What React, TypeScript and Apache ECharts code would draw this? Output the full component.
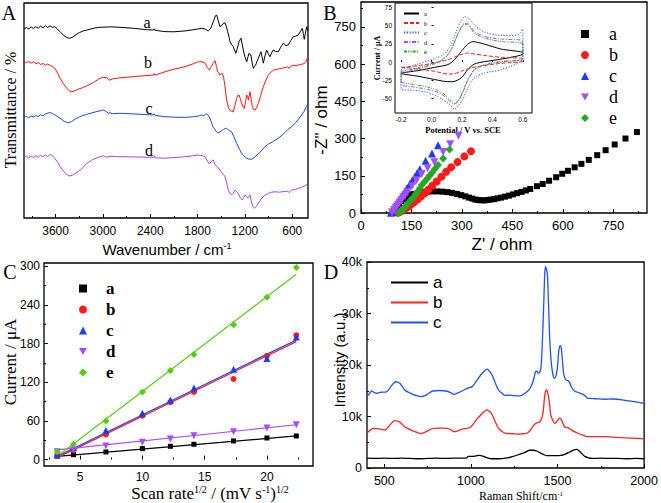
import React, { useEffect, useRef } from 'react';
import * as echarts from 'echarts';

const SERIF = '"Liberation Serif", "Times New Roman", serif';
const SANS = '"Liberation Sans", Arial, sans-serif';

// ---------- Panel A: FTIR (wavenumber, transmittance a.u.) ----------
const ftirNames = ['a', 'b', 'c', 'd'];
const ftirColors = ['#000000', '#ff1010', '#1f45e6', '#a349e8'];
const ftirTicks = [3600, 3000, 2400, 1800, 1200, 600];
const ftirMinorTicks = [3900, 3300, 2700, 2100, 1500, 900];
const ftirA = [[4000,88.0],[3970,88.6],[3940,87.9],[3910,88.9],[3880,88.1],[3850,89.0],[3820,88.2],[3790,89.3],[3760,88.4],[3730,89.5],[3700,88.6],[3670,89.4],[3640,88.7],[3610,89.0],[3580,88.0],[3544,86.7],[3500,85.0],[3450,83.8],[3417,83.6],[3380,84.2],[3340,85.3],[3300,86.2],[3250,87.0],[3205,87.4],[3100,88.4],[3037,88.7],[2900,88.9],[2783,88.7],[2600,88.2],[2450,87.6],[2361,87.4],[2350,88.0],[2340,87.3],[2213,86.7],[2100,86.6],[1959,87.0],[1850,87.6],[1747,88.2],[1700,87.8],[1664,87.0],[1630,88.5],[1600,91.3],[1575,94.0],[1557,94.4],[1540,92.0],[1516,89.0],[1500,89.5],[1486,89.8],[1470,90.6],[1452,90.8],[1435,89.0],[1418,86.7],[1400,84.0],[1389,82.0],[1365,80.5],[1347,79.7],[1330,78.0],[1316,76.6],[1295,79.0],[1275,82.0],[1250,83.6],[1235,81.0],[1220,78.1],[1200,75.0],[1177,72.7],[1160,75.0],[1148,76.6],[1135,76.0],[1123,75.8],[1110,72.5],[1093,69.6],[1078,70.5],[1063,71.2],[1045,73.0],[1030,74.3],[1012,76.0],[996,77.3],[980,74.5],[966,72.0],[945,75.5],[924,78.1],[905,76.5],[882,75.0],[860,77.0],[840,78.1],[810,77.5],[777,77.3],[745,79.5],[713,81.3],[680,80.2],[650,80.5],[620,82.5],[586,84.3],[555,84.6],[523,85.1],[500,86.5],[472,88.2],[460,86.0],[447,83.1],[430,86.5],[417,89.0],[405,87.0]];
const ftirB = [[4000,72.8],[3970,72.2],[3940,72.9],[3910,72.0],[3880,72.6],[3850,71.7],[3820,72.3],[3790,71.4],[3760,71.9],[3730,71.0],[3700,71.6],[3670,71.0],[3640,70.5],[3607,69.6],[3575,67.5],[3544,65.0],[3500,62.5],[3459,60.3],[3420,59.0],[3395,58.7],[3350,59.2],[3312,59.9],[3260,60.6],[3205,61.4],[3120,63.0],[3037,65.0],[2990,65.4],[2952,65.3],[2930,64.3],[2910,64.2],[2870,64.8],[2783,65.2],[2600,65.8],[2361,66.5],[2350,67.2],[2340,66.4],[2213,68.0],[2100,69.2],[1959,70.4],[1850,71.8],[1790,72.7],[1740,72.6],[1705,72.0],[1675,70.0],[1650,68.8],[1625,70.5],[1600,72.0],[1579,73.2],[1560,70.5],[1545,68.0],[1530,67.5],[1516,66.5],[1500,67.0],[1486,67.3],[1470,65.5],[1461,63.4],[1445,59.0],[1431,54.9],[1410,51.5],[1389,50.2],[1368,49.6],[1347,49.4],[1325,52.5],[1304,55.7],[1290,57.0],[1275,57.2],[1258,55.5],[1241,53.3],[1225,51.8],[1207,51.0],[1192,54.0],[1177,57.2],[1165,56.5],[1156,54.9],[1145,57.0],[1135,58.7],[1120,55.0],[1106,51.8],[1090,50.5],[1071,50.2],[1050,51.5],[1030,53.3],[1000,57.0],[966,61.1],[935,64.0],[903,66.5],[870,67.8],[840,68.8],[790,69.2],[734,69.6],[700,69.9],[660,70.3],[640,69.6],[620,70.6],[607,70.7],[580,71.0],[540,70.8],[510,71.4],[480,71.5],[450,71.8],[430,72.4],[417,73.8],[405,74.5]];
const ftirC = [[4000,46.8],[3970,47.3],[3940,46.6],[3910,47.5],[3880,46.9],[3850,47.7],[3820,47.1],[3790,48.0],[3760,47.5],[3730,48.4],[3700,48.8],[3670,49.0],[3640,48.6],[3600,47.8],[3544,46.4],[3490,45.0],[3440,44.3],[3400,44.8],[3350,46.0],[3312,46.8],[3260,47.6],[3205,48.2],[3100,49.3],[3020,50.0],[2990,50.2],[2960,49.5],[2930,48.7],[2910,49.0],[2880,48.5],[2783,48.7],[2600,48.4],[2361,47.9],[2350,48.5],[2340,47.7],[2213,47.1],[2100,46.9],[1959,46.8],[1850,47.1],[1790,47.4],[1750,47.9],[1720,47.6],[1700,48.2],[1684,48.4],[1665,47.8],[1643,46.4],[1620,44.0],[1605,42.5],[1588,41.7],[1570,40.5],[1545,39.7],[1520,40.0],[1494,40.6],[1470,41.2],[1450,41.6],[1431,41.7],[1410,41.0],[1390,40.5],[1368,40.1],[1340,37.8],[1304,34.7],[1270,32.2],[1241,30.1],[1210,28.8],[1177,27.8],[1150,27.4],[1114,27.3],[1080,28.2],[1030,29.8],[990,31.3],[945,33.2],[900,34.5],[850,35.4],[777,37.1],[720,38.8],[660,41.0],[607,42.5],[560,44.2],[520,46.0],[480,47.9],[450,49.6],[420,51.8],[404,52.6]];
const ftirD = [[4000,28.0],[3970,28.8],[3940,27.9],[3910,28.9],[3880,28.1],[3850,29.0],[3820,28.2],[3790,29.2],[3760,28.4],[3730,29.4],[3700,28.6],[3670,29.5],[3640,29.0],[3607,27.6],[3575,26.0],[3544,24.0],[3500,21.8],[3459,20.2],[3417,19.5],[3380,20.0],[3340,21.0],[3312,21.5],[3260,23.2],[3205,25.4],[3130,27.2],[3037,28.5],[2990,28.9],[2960,28.3],[2900,28.7],[2783,28.5],[2600,28.4],[2361,28.2],[2350,28.9],[2340,28.0],[2213,27.8],[2100,28.1],[1959,28.5],[1850,29.0],[1790,29.3],[1740,29.0],[1705,28.4],[1675,26.5],[1650,25.1],[1625,26.2],[1600,27.0],[1580,25.0],[1557,23.9],[1540,23.5],[1516,22.3],[1500,21.5],[1486,20.8],[1470,20.2],[1452,19.2],[1430,16.0],[1410,13.0],[1390,11.5],[1368,10.7],[1348,11.5],[1326,13.0],[1305,12.3],[1283,11.5],[1260,9.5],[1233,8.4],[1215,9.5],[1198,10.7],[1180,10.0],[1165,9.2],[1150,10.0],[1135,10.7],[1120,8.0],[1106,6.0],[1093,5.0],[1080,4.5],[1055,5.5],[1030,6.8],[990,9.0],[945,10.7],[900,11.5],[860,12.0],[819,12.2],[760,12.0],[720,12.3],[692,12.2],[660,12.6],[640,11.8],[607,13.0],[560,13.3],[523,13.8],[480,14.3],[440,15.0],[404,15.8]];
const ftirData = [ftirA, ftirB, ftirC, ftirD];

// ---------- Panel B: Nyquist (Z', -Z'') ----------
const nyqNames = ['a', 'b', 'c', 'd', 'e'];
const nyqColors = ['#000000', '#ff1a1a', '#1a3cff', '#a64dff', '#22aa22'];
const nyqA = [[95,0],[98,8],[102,18],[107,28],[113,38],[120,48],[128,57],[137,65],[147,72],[158,77],[170,81],[183,84],[197,86],[212,87],[227,87],[242,86],[257,84],[271,81],[285,77],[298,72],[310,67],[321,62],[331,58],[340,54],[349,52],[358,51],[367,51],[376,52],[385,54],[395,56],[405,59],[416,62],[428,66],[440,70],[452,75],[464,80],[477,85],[490,91],[503,97],[523,108],[540,117],[559,130],[580,144],[598,158],[615,170],[635,184],[655,198],[677,214],[702,233],[727,253],[754,276],[786,300],[820,326]];
const nyqB = [[109,1],[115,4],[122,9],[130,16],[139,24],[148,33],[158,43],[168,54],[178,66],[189,79],[200,94],[212,110],[225,127],[239,146],[253,166],[268,184],[287,205],[307,228],[327,249]];
const nyqC = [[89,1],[95,12],[101,25],[108,40],[115,55],[122,70],[130,86],[137,101],[145,117],[152,131],[160,146],[167,161],[175,176],[192,210],[211,240],[229,273]];
const nyqD = [[92,2],[98,12],[104,22],[110,32],[115,42],[121,52],[126,62],[132,73],[138,84],[151,108],[165,132],[181,157],[198,180],[218,204],[244,246],[265,277],[290,311]];
const nyqE = [[112,0],[117,5],[121,10],[126,17],[130,24],[136,33],[142,42],[148,52],[155,62],[161,74],[168,86],[175,99],[181,113],[189,126],[197,139],[204,151],[211,162],[220,178],[229,193],[244,220],[263,256]];
const nyqData = [nyqA, nyqB, nyqC, nyqD, nyqE];
const nyqTicks = [0, 150, 300, 450, 600, 750];

// ---------- Inset: cyclic voltammograms (V, µA) ----------
const cvColors = ['#000000', '#ff1a1a', '#3355ff', '#b04cf0', '#22b022'];
const cvDash: any[] = ['solid', [4, 2], [1.2, 1.6], [4, 1.5, 1, 1.5], [3, 1.2, 1, 1.2, 1, 1.2]];
const cvA = [[-0.2,-15],[-0.09,-11.8],[0.02,-7.3],[0.107,-3.6],[0.151,3.2],[0.195,14.5],[0.238,24.5],[0.271,28],[0.348,24.5],[0.458,17.7],[0.6,13],[0.6,11],[0.458,4],[0.348,0.5],[0.282,-2.7],[0.238,-10.5],[0.195,-21.8],[0.14,-27],[0.107,-27],[0.02,-24],[-0.09,-19.5],[-0.2,-15.5],[-0.2,-15]];
const cvB = [[-0.2,-8],[-0.09,-5],[0.019,-1.4],[0.107,3.2],[0.162,7.7],[0.205,10.9],[0.238,12.3],[0.282,10.9],[0.348,9],[0.458,6.4],[0.6,4.5],[0.6,1],[0.458,-1.8],[0.348,-5],[0.26,-8],[0.195,-12.7],[0.14,-16.4],[0.107,-16.4],[0.019,-12.7],[-0.09,-9.5],[-0.2,-6.8],[-0.2,-8]];
const cvC = [[-0.2,-10.5],[-0.09,-2.7],[0.019,4.5],[0.085,10.9],[0.129,23.6],[0.162,41.8],[0.19,55.5],[0.216,62.3],[0.249,59],[0.293,48.6],[0.348,41],[0.458,36.4],[0.567,37.3],[0.6,45],[0.6,5],[0.458,-10.5],[0.348,-15],[0.282,-21.8],[0.238,-35.5],[0.205,-51.4],[0.173,-60.5],[0.151,-65],[0.118,-58],[0.063,-50],[-0.025,-42],[-0.112,-39],[-0.2,-37],[-0.2,-10.5]];
const cvD = [[-0.2,-15],[-0.09,-9.5],[0.019,-2.7],[0.085,4.5],[0.129,16.8],[0.162,33.6],[0.19,46.4],[0.216,53],[0.243,52],[0.282,41.8],[0.348,35],[0.458,31.4],[0.6,29],[0.6,4],[0.458,0.9],[0.348,-3.6],[0.282,-10.5],[0.238,-25.5],[0.205,-42],[0.173,-54.5],[0.146,-58],[0.118,-53.6],[0.063,-43.6],[-0.025,-37.7],[-0.112,-34.5],[-0.2,-31],[-0.2,-15]];
const cvE = [[-0.2,-12.7],[-0.09,-8],[0.019,-1.4],[0.085,5.5],[0.129,16.8],[0.162,32.7],[0.19,45.5],[0.216,51.8],[0.238,51],[0.282,39.5],[0.348,32.7],[0.458,28],[0.6,24.5],[0.6,5],[0.458,0],[0.348,-4.5],[0.282,-10.5],[0.238,-24],[0.205,-41],[0.173,-53.6],[0.151,-56.8],[0.118,-51],[0.063,-41],[-0.025,-34.5],[-0.112,-31],[-0.2,-27],[-0.2,-12.7]];
const cvData = [cvA, cvB, cvC, cvD, cvE];
const cvXTicks = [-0.2, 0, 0.2, 0.4, 0.6];
const cvYTicks = [-50, -25, 0, 25, 50, 75];

// ---------- Panel C: peak current vs sqrt(scan rate) ----------
const scanSqrt = [3.16, 4.47, 7.07, 10, 12.25, 14.14, 17.32, 20, 22.36];
const ipA = [5.6, 7.6, 11.8, 17, 20.6, 23.7, 28.9, 33.5, 36.6];
const ipB = [5.6, 15, 39, 68, 89, 105, 125, 161, 193];
const ipC = [7, 18.6, 45, 72, 92.5, 111, 140, 157, 190];
const ipD = [12, 15, 21, 27, 32, 37, 43, 49, 54];
const ipE = [12.3, 23.7, 60, 105, 138, 163, 209, 252, 298];
const ipData = [ipA, ipB, ipC, ipD, ipE];
const fitEnds = [[5, 36.6], [3, 183], [5, 185.6], [15, 54], [5, 287.5]];
const ipColors = ['#000000', '#ff1a1a', '#1a3cff', '#a64dff', '#55cc11'];
const cXTicks = [5, 10, 15, 20];
const cXMinor = [2.5, 7.5, 12.5, 17.5, 22.5];
const cYTicks = [0, 60, 120, 180, 240, 300];
const cYMinor = [30, 90, 150, 210, 270];

// ---------- Panel D: Raman ----------
const ramanNames = ['a', 'b', 'c'];
const ramanColors = ['#000000', '#ff2020', '#2050ff'];
const ramanA = [[400,1900],[450,1850],[500,1900],[550,1850],[600,1900],[650,1850],[700,1800],[750,1850],[800,1900],[850,1850],[900,1900],[950,1900],[975,1950],[985,2250],[1010,2250],[1030,2350],[1050,2450],[1070,2300],[1090,2050],[1120,1800],[1160,1800],[1200,1900],[1240,2200],[1280,2650],[1310,3000],[1340,3450],[1360,3450],[1380,3300],[1400,2950],[1420,2600],[1440,2400],[1480,2400],[1520,2450],[1545,2700],[1570,3100],[1595,3500],[1610,3600],[1625,3300],[1640,2800],[1660,2200],[1680,1950],[1700,1850],[1750,1900],[1800,1850],[1850,1850],[1900,1800],[1950,1850],[2000,1800]];
const ramanB = [[400,6800],[420,7400],[436,7700],[470,7600],[503,7400],[531,8300],[560,9200],[589,8900],[617,8000],[640,7600],[665,7200],[690,6900],[712,6700],[741,7050],[765,7500],[789,7700],[830,7750],[865,7700],[885,7400],[903,7050],[930,7300],[950,7550],[975,7700],[998,7900],[1015,8600],[1036,9600],[1060,10400],[1080,11000],[1093,11300],[1110,10900],[1122,10400],[1140,9000],[1160,7700],[1180,7100],[1198,6750],[1217,6700],[1240,6650],[1274,6550],[1300,6650],[1322,6750],[1340,7200],[1350,7700],[1373,8650],[1398,9000],[1410,9800],[1417,10900],[1427,14200],[1436,15150],[1446,14200],[1455,12200],[1461,10300],[1472,9300],[1484,8650],[1495,9000],[1503,9300],[1512,9750],[1520,9500],[1528,9000],[1541,8000],[1560,7850],[1579,7400],[1600,7000],[1617,6750],[1645,6400],[1674,6100],[1720,6100],[1769,6100],[1820,6000],[1865,5900],[1930,5800],[1998,5650]];
const ramanC = [[400,13850],[415,14500],[427,14950],[440,14700],[455,14500],[474,14700],[512,14800],[530,15400],[541,16000],[556,16500],[566,16750],[589,16450],[605,15800],[617,15150],[640,14700],[665,14300],[690,14000],[712,13850],[741,14150],[760,14600],[779,14950],[820,15050],[855,14950],[880,14700],[903,14300],[925,14600],[950,14950],[975,15400],[989,15600],[1008,15800],[1020,16300],[1036,17100],[1060,18200],[1080,18900],[1093,19200],[1110,18700],[1122,18050],[1140,16600],[1160,15100],[1180,14500],[1198,14100],[1217,14150],[1250,14050],[1284,14000],[1312,14500],[1330,15000],[1341,15450],[1360,16900],[1373,18700],[1382,18800],[1389,18400],[1397,18600],[1404,19350],[1410,22500],[1417,28400],[1422,33500],[1427,38100],[1432,39100],[1437,38500],[1442,37450],[1448,32000],[1455,25200],[1464,20500],[1474,18050],[1484,17400],[1492,18000],[1499,19350],[1505,21800],[1509,23200],[1516,23750],[1522,23200],[1526,21900],[1532,19500],[1537,18050],[1545,17300],[1550,17100],[1564,16900],[1572,16400],[1579,15800],[1598,14950],[1625,14600],[1655,14150],[1674,13550],[1720,13450],[1769,13350],[1820,13400],[1845,13350],[1880,13200],[1922,13000],[1960,12800],[1998,12550]];
const ramanData = [ramanA, ramanB, ramanC];
const dXTicks = [500, 1000, 1500, 2000];
const dXMinor = [750, 1250, 1750];

const downTri = 'path://M0,0 L10,0 L5,9 Z';
const nyqSymbols = ['rect', 'circle', 'triangle', downTri, 'diamond'];
const nyqSizes = [6, 8, 8, 8, 8];
const cSymbols = ['rect', 'circle', 'triangle', downTri, 'diamond'];
const cSizes = [5, 6, 7, 7, 7];

const plain = (v: number) => String(v);

function hidden(extra: any) {
  return {
    type: 'value',
    axisLine: { show: false },
    axisLabel: { show: false },
    axisTick: { show: false },
    splitLine: { show: false },
    ...extra,
  };
}

function ticked(extra: any, labelExtra: any, tickLen: number, tickValues?: number[]) {
  return {
    type: 'value',
    axisLine: { show: false },
    splitLine: { show: false },
    axisTick: { show: true, inside: true, length: tickLen, lineStyle: { color: '#000', width: 1 }, ...(tickValues ? { customValues: tickValues } : {}) },
    axisLabel: { color: '#000', fontFamily: SANS, formatter: plain, showMinLabel: true, showMaxLabel: true, hideOverlap: false, ...labelExtra },
    ...extra,
  };
}

export default function App() {
  const ref = useRef<HTMLDivElement>(null);
  useEffect(() => {
    document.body.style.margin = '0';
    const chart = echarts.init(ref.current!, null, { renderer: 'svg' });

    const gridStyle = { show: true, borderColor: '#000', borderWidth: 1.3, backgroundColor: 'transparent' };
    const grid = [
      { left: 24, top: 3, width: 284, height: 215, ...gridStyle },
      { left: 361, top: 2, width: 286, height: 211, ...gridStyle },
      { left: 395, top: 3, width: 137, height: 110, ...gridStyle, borderWidth: 1, backgroundColor: '#fff' },
      { left: 44, top: 263, width: 269, height: 203, ...gridStyle },
      { left: 367, top: 262, width: 279, height: 206, ...gridStyle },
    ];

    const xAxis: any[] = [
      // 0 A main
      ticked({ gridIndex: 0, min: 400, max: 4000, inverse: true, position: 'bottom' },
        { customValues: ftirTicks, fontSize: 12, margin: 7 }, 4, ftirTicks),
      // 1 A minor
      hidden({ gridIndex: 0, min: 400, max: 4000, inverse: true, position: 'bottom',
        axisTick: { show: true, inside: true, length: 2, customValues: ftirMinorTicks, lineStyle: { color: '#000' } } }),
      // 2 B
      ticked({ gridIndex: 1, min: 0, max: 850, interval: 150, position: 'bottom',
        minorTick: { show: true, splitNumber: 2, length: 2, lineStyle: { color: '#000' } } },
        { fontSize: 13, margin: 6, customValues: nyqTicks }, 4, nyqTicks),
      // 3 inset
      ticked({ gridIndex: 2, min: -0.24, max: 0.66, position: 'bottom' },
        { customValues: cvXTicks, fontSize: 6.5, margin: 3, formatter: (v: number) => v.toFixed(1) }, 2, cvXTicks),
      // 4 C main
      ticked({ gridIndex: 3, min: 2.1, max: 23.7, position: 'bottom' },
        { customValues: cXTicks, fontSize: 12, margin: 5 }, 4, cXTicks),
      // 5 C minor
      hidden({ gridIndex: 3, min: 2.1, max: 23.7, position: 'bottom',
        axisTick: { show: true, inside: true, length: 2, customValues: cXMinor, lineStyle: { color: '#000' } } }),
      // 6 D main
      ticked({ gridIndex: 4, min: 400, max: 2000, position: 'bottom' },
        { customValues: dXTicks, fontSize: 12.5, margin: 6 }, 4, dXTicks),
      // 7 D minor
      hidden({ gridIndex: 4, min: 400, max: 2000, position: 'bottom',
        axisTick: { show: true, inside: true, length: 2, customValues: dXMinor, lineStyle: { color: '#000' } } }),
    ];

    const yAxis: any[] = [
      // 0 A
      hidden({ gridIndex: 0, min: 0, max: 100 }),
      // 1 B
      ticked({ gridIndex: 1, min: 0, max: 850, interval: 150, position: 'left',
        minorTick: { show: true, splitNumber: 2, length: 2, lineStyle: { color: '#000' } } },
        { fontSize: 13, margin: 5, customValues: nyqTicks }, 4, nyqTicks),
      // 2 inset
      ticked({ gridIndex: 2, min: -70, max: 81, position: 'left' },
        { customValues: cvYTicks, fontSize: 6.5, margin: 3 }, 2, cvYTicks),
      // 3 C main
      ticked({ gridIndex: 3, min: -10, max: 305, position: 'left' },
        { customValues: cYTicks, fontSize: 12, margin: 4 }, 4, cYTicks),
      // 4 C minor
      hidden({ gridIndex: 3, min: -10, max: 305, position: 'left',
        axisTick: { show: true, inside: true, length: 2, customValues: cYMinor, lineStyle: { color: '#000' } } }),
      // 5 D
      ticked({ gridIndex: 4, min: 0, max: 40000, interval: 10000, position: 'left',
        minorTick: { show: true, splitNumber: 2, length: 2, lineStyle: { color: '#000' } } },
        { fontSize: 12.5, margin: 5, formatter: (v: number) => (v === 0 ? '0' : v / 1000 + 'k') }, 4),
    ];

    const series: any[] = [];
    ftirData.forEach((d, i) => {
      series.push({ type: 'line', name: 'A-' + ftirNames[i], xAxisIndex: 0, yAxisIndex: 0, data: d,
        showSymbol: false, lineStyle: { color: ftirColors[i], width: 1 }, itemStyle: { color: ftirColors[i] } });
    });
    nyqData.forEach((d, i) => {
      series.push({ type: 'scatter', name: 'B-' + nyqNames[i], xAxisIndex: 2, yAxisIndex: 1, data: d,
        symbol: nyqSymbols[i], symbolSize: nyqSizes[i], itemStyle: { color: nyqColors[i], opacity: 1 } });
    });
    cvData.forEach((d, i) => {
      series.push({ type: 'line', name: 'I-' + nyqNames[i], xAxisIndex: 3, yAxisIndex: 2, data: d,
        showSymbol: false, symbol: 'none', smooth: 0.25,
        lineStyle: { color: cvColors[i], width: 1, type: cvDash[i] }, itemStyle: { color: cvColors[i] } });
    });
    ipData.forEach((d, i) => {
      series.push({ type: 'line', name: 'C-fit-' + nyqNames[i], xAxisIndex: 4, yAxisIndex: 3,
        data: [[scanSqrt[0], fitEnds[i][0]], [scanSqrt[scanSqrt.length - 1], fitEnds[i][1]]],
        showSymbol: false, symbol: 'none', lineStyle: { color: ipColors[i], width: 1.2 }, z: 2 });
    });
    ipData.forEach((d, i) => {
      series.push({ type: 'scatter', name: 'C-' + nyqNames[i], xAxisIndex: 4, yAxisIndex: 3,
        data: d.map((v, k) => [scanSqrt[k], v]),
        symbol: cSymbols[i], symbolSize: cSizes[i], itemStyle: { color: ipColors[i], opacity: 1 }, z: 3 });
    });
    ramanData.forEach((d, i) => {
      series.push({ type: 'line', name: 'D-' + ramanNames[i], xAxisIndex: 6, yAxisIndex: 5, data: d,
        showSymbol: false, symbol: 'none', smooth: 0.3, lineStyle: { color: ramanColors[i], width: 1.3 }, itemStyle: { color: ramanColors[i] } });
    });

    const legendBase = { orient: 'vertical', selectedMode: false, padding: 0, formatter: (n: string) => n.slice(n.lastIndexOf('-') + 1) };
    const legend: any[] = [
      { ...legendBase, data: nyqNames.map((n) => 'B-' + n), left: 581, top: 25, itemWidth: 8, itemHeight: 8, itemGap: 3,
        textStyle: { fontFamily: SERIF, fontSize: 18, color: '#000', padding: [0, 0, 0, 15] } },
      { ...legendBase, data: nyqNames.map((n) => 'I-' + n), left: 403, top: 10, itemWidth: 15, itemHeight: 1, itemGap: 2.5,
        itemStyle: { opacity: 0 },
        textStyle: { fontFamily: SERIF, fontSize: 6.5, color: '#000', padding: [0, 0, 0, 0] } },
      { ...legendBase, data: nyqNames.map((n) => 'C-' + n), left: 79, top: 280, itemWidth: 8, itemHeight: 8, itemGap: 4,
        textStyle: { fontFamily: SERIF, fontSize: 17, fontWeight: 'bold', color: '#000', padding: [0, 0, 0, 14] } },
      { ...legendBase, data: ramanNames.map((n) => 'D-' + n), left: 390, top: 274, itemWidth: 37, itemHeight: 1, itemGap: 3,
        itemStyle: { opacity: 0 },
        textStyle: { fontFamily: SANS, fontSize: 17, color: '#000', padding: [0, 0, 0, 0] } },
    ];

    const txt = (x: number, y: number, text: string, font: string, size: number, extra: any = {}) => ({
      type: 'text', x, y, rotation: extra.rotation || 0,
      style: { text, fontFamily: font, fontSize: size, fill: '#000', align: 'center', verticalAlign: 'middle', fontWeight: extra.bold ? 'bold' : 'normal', rich: extra.rich },
    });
    const supRich = (size: number, font: string) => ({
      n: { fontFamily: font, fontSize: size, fill: '#000' },
      s: { fontFamily: font, fontSize: Math.round(size * 0.6), fill: '#000', verticalAlign: 'top' },
    });

    const graphic: any[] = [
      txt(9, 13, 'A', SERIF, 20),
      txt(330, 13, 'B', SERIF, 20),
      txt(10, 272, 'C', SERIF, 20),
      txt(331, 272, 'D', SERIF, 20),
      txt(10, 110, 'Transmittance / %', SERIF, 16, { rotation: Math.PI / 2 }),
      txt(167, 249, '{n|Wavenumber / cm}{s|-1}', SANS, 15, { rich: supRich(15, SANS) }),
      txt(147, 22, 'a', SERIF, 16), txt(148, 62, 'b', SERIF, 16), txt(149, 108, 'c', SERIF, 16), txt(149, 150, 'd', SERIF, 16),
      txt(321, 120, '-Z" / ohm', SANS, 17, { rotation: Math.PI / 2 }),
      txt(502, 244, "Z' / ohm", SANS, 17),
      txt(377, 58, 'Current / μA', SERIF, 8, { rotation: Math.PI / 2, bold: true }),
      txt(463, 130, 'Potential / V vs. SCE', SERIF, 8.5, { bold: true }),
      txt(10, 362, 'Current / μA', SERIF, 17, { rotation: Math.PI / 2 }),
      txt(210, 493, '{n|Scan rate}{s|1/2}{n| / (mV s}{s|-1}{n|)}{s|1/2}', SERIF, 17, { rich: supRich(17, SERIF) }),
      txt(339, 360, 'Intensity (a.u.)', SANS, 15, { rotation: Math.PI / 2 }),
      txt(521, 496, '{n|Raman Shift/cm}{s|-1}', SERIF, 12, { rich: supRich(12, SERIF) }),
    ];

    chart.setOption({
      animation: false,
      textStyle: { fontFamily: SANS },
      grid, xAxis, yAxis, series, legend, graphic,
    });
    return () => chart.dispose();
  }, []);
  return <div ref={ref} style={{ width: 661, height: 503 }} />;
}
